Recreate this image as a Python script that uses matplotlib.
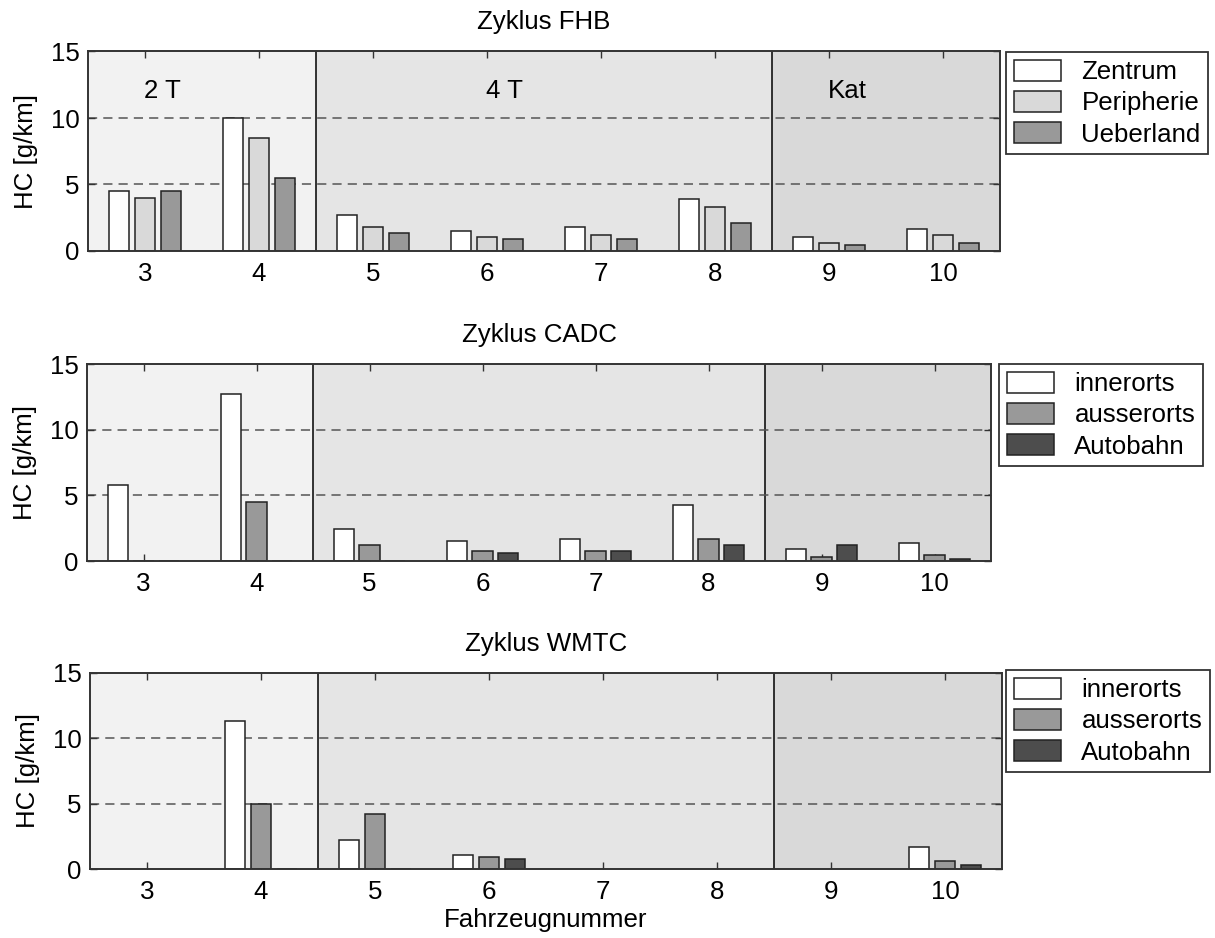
import numpy as np
import matplotlib
matplotlib.use("Agg")
import matplotlib.pyplot as plt

plt.rcParams['font.family'] = ['Liberation Sans', 'DejaVu Sans']

vehicles = [3, 4, 5, 6, 7, 8, 9, 10]
nan = np.nan

# Zyklus FHB
fhb_labels = ["Zentrum", "Peripherie", "Ueberland"]
fhb_zentrum = [4.5, 10.0, 2.7, 1.5, 1.8, 3.9, 1.05, 1.65]
fhb_peripherie = [4.0, 8.5, 1.8, 1.05, 1.23, 3.3, 0.63, 1.23]
fhb_ueberland = [4.5, 5.5, 1.35, 0.9, 0.9, 2.1, 0.48, 0.63]

# Zyklus CADC
cadc_labels = ["innerorts", "ausserorts", "Autobahn"]
cadc_innerorts = [5.8, 12.7, 2.4, 1.5, 1.65, 4.3, 0.9, 1.35]
cadc_ausserorts = [0.0, 4.5, 1.2, 0.75, 0.75, 1.65, 0.3, 0.45]
cadc_autobahn = [0.0, 0.0, 0.0, 0.6, 0.75, 1.2, 1.2, 0.15]

# Zyklus WMTC
wmtc_labels = ["innerorts", "ausserorts", "Autobahn"]
wmtc_innerorts = [nan, 11.3, 2.25, 1.1, nan, nan, nan, 1.65]
wmtc_ausserorts = [nan, 4.95, 4.2, 0.92, nan, nan, nan, 0.62]
wmtc_autobahn = [nan, 0.0, 0.0, 0.75, nan, nan, nan, 0.32]

region_labels = ["2 T", "4 T", "Kat"]
region_bounds = [2.5, 4.5, 8.5, 10.5]
region_colors = ["#f2f2f2", "#e5e5e5", "#d9d9d9"]

W, H = 1215, 938
fig = plt.figure(figsize=(W / 100, H / 100), dpi=100)
FS = 18.6


def pos(l, r, t, b):
    return [l / W, 1 - b / H, (r - l) / W, (b - t) / H]


panels = [
    dict(rect=pos(88, 1000, 51.5, 251), title="Zyklus FHB", labels=fhb_labels,
         data=[fhb_zentrum, fhb_peripherie, fhb_ueberland],
         colors=["#ffffff", "#d9d9d9", "#999999"], leg=(1006, 52), regions=True, xlabel=False),
    dict(rect=pos(87, 991, 364, 561), title="Zyklus CADC", labels=cadc_labels,
         data=[cadc_innerorts, cadc_ausserorts, cadc_autobahn],
         colors=["#ffffff", "#999999", "#4d4d4d"], leg=(999, 364), regions=False, xlabel=False),
    dict(rect=pos(90, 1002, 673, 869), title="Zyklus WMTC", labels=wmtc_labels,
         data=[wmtc_innerorts, wmtc_ausserorts, wmtc_autobahn],
         colors=["#ffffff", "#999999", "#4d4d4d"], leg=(1006, 670), regions=False, xlabel=True),
]

x = np.array(vehicles, dtype=float)
offsets = [-0.226, 0.0, 0.226]
bw = 0.178

for p in panels:
    ax = fig.add_axes(p["rect"])
    ax.set_xlim(2.5, 10.5)
    ax.set_ylim(0, 15)
    for i in range(3):
        ax.axvspan(region_bounds[i], region_bounds[i + 1], color=region_colors[i], zorder=0, lw=0)
    for xb in region_bounds[1:3]:
        ax.axvline(xb, color="black", lw=1.1, zorder=1)
    for yg in (5, 10):
        ax.axhline(yg, color="#555555", lw=1.1, ls=(0, (6, 4)), zorder=1)
    handles = []
    for i in range(3):
        h = ax.bar(x + offsets[i], p["data"][i], width=bw, color=p["colors"][i],
                   edgecolor="#222222", linewidth=1.1, zorder=3, label=p["labels"][i])
        handles.append(h)
    if p["regions"]:
        ax.text(3.15, 12.05, region_labels[0], ha="center", va="center", fontsize=FS)
        ax.text(6.15, 12.05, region_labels[1], ha="center", va="center", fontsize=FS)
        ax.text(9.16, 12.05, region_labels[2], ha="center", va="center", fontsize=FS)
    ax.set_xticks(vehicles)
    ax.set_xticklabels([str(v) for v in vehicles], fontsize=FS)
    ax.set_yticks([0, 5, 10, 15])
    ax.set_yticklabels(["0", "5", "10", "15"], fontsize=FS)
    ax.tick_params(direction="in", length=5, width=1, color="#333333", pad=6,
                   top=True, right=True)
    ax.tick_params(axis="x", pad=8)
    ax.set_ylabel("HC [g/km]", fontsize=FS, labelpad=9)
    ax.set_title(p["title"], fontsize=FS, pad=16)
    for s in ax.spines.values():
        s.set_color("#333333")
        s.set_linewidth(1.4)
        s.set_zorder(5)
    if p["xlabel"]:
        ax.set_xlabel("Fahrzeugnummer", fontsize=FS, labelpad=3)
    lx, ly = p["leg"]
    leg = ax.legend(handles=handles, loc="upper left",
                    bbox_to_anchor=(lx / W, 1 - ly / H), bbox_transform=fig.transFigure,
                    fontsize=FS, frameon=True, fancybox=False, borderaxespad=0,
                    handlelength=1.82, handleheight=0.9, handletextpad=0.8,
                    labelspacing=0.25, borderpad=0.3)
    leg.get_frame().set_edgecolor("black")
    leg.get_frame().set_linewidth(1.3)

fig.savefig("out.png", dpi=100)
